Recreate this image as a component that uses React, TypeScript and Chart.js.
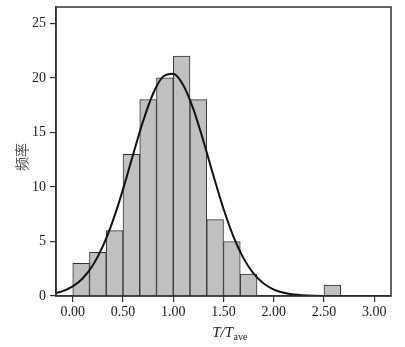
import React, { useEffect, useRef } from "react";
import { Chart, registerables } from "chart.js";

Chart.register(...registerables);

// Histogram bins (left edge of each bin, width 1/6) and counts
const binStart = [0.0, 0.1667, 0.3333, 0.5, 0.6667, 0.8333, 1.0, 1.1667, 1.3333, 1.5, 1.6667, 2.5];
const counts = [3, 4, 6, 13, 18, 20, 22, 18, 7, 5, 2, 1];
const binWidth = 1 / 6;

// Fitted normal curve
const curveX = [-0.17, -0.1, 0.0, 0.1, 0.2, 0.3, 0.4, 0.5, 0.6, 0.7, 0.8, 0.9, 1.0, 1.1, 1.2, 1.3, 1.4, 1.5, 1.6, 1.7, 1.8, 1.9, 2.0, 2.1, 2.2, 2.4, 2.6, 2.9, 3.17];
const curveY = [0.27, 0.45, 0.88, 1.63, 2.82, 4.57, 6.91, 9.78, 12.95, 16.03, 18.57, 20.12, 20.39, 19.33, 17.14, 14.22, 11.03, 8.0, 5.43, 3.45, 2.05, 1.14, 0.59, 0.29, 0.13, 0.02, 0.0, 0.0, 0.0];

const xTicks = [0, 0.5, 1.0, 1.5, 2.0, 2.5, 3.0];
const yTicks = [0, 5, 10, 15, 20, 25];
const xMin = -1 / 6;
const xMax = 3.1667;
const yMax = 26.5;
const yTitle = "频率";
const xTitleMain = "T/T";
const xTitleSub = "ave";

const SERIF = "'Liberation Serif', 'DejaVu Serif', serif";

const framePlugin = {
  id: "frameAndTitles",
  afterDraw(chart: any) {
    const { ctx, chartArea } = chart;
    ctx.save();
    ctx.strokeStyle = "#333";
    ctx.lineWidth = 1.5;
    ctx.strokeRect(chartArea.left, chartArea.top, chartArea.right - chartArea.left, chartArea.bottom - chartArea.top);

    // y title
    ctx.fillStyle = "#555";
    ctx.font = "14px 'Noto Sans CJK SC'";
    ctx.textAlign = "center";
    ctx.textBaseline = "middle";
    ctx.translate(22, 157);
    ctx.rotate(-Math.PI / 2);
    ctx.fillText(yTitle, 0, 0);
    ctx.restore();

    // x title
    ctx.save();
    ctx.fillStyle = "#222";
    ctx.textBaseline = "alphabetic";
    ctx.textAlign = "left";
    ctx.font = "italic 15px " + SERIF;
    const wMain = ctx.measureText(xTitleMain).width;
    ctx.font = "10px " + SERIF;
    const wSub = ctx.measureText(xTitleSub).width;
    const cx = 229.5;
    const x0 = cx - (wMain + wSub) / 2;
    ctx.font = "italic 15px " + SERIF;
    ctx.fillText(xTitleMain, x0, 337);
    ctx.font = "10px " + SERIF;
    ctx.fillText(xTitleSub, x0 + wMain + 0.5, 340);
    ctx.restore();
  },
};

export default function App() {
  const ref = useRef<HTMLCanvasElement>(null);
  useEffect(() => {
    document.body.style.margin = "0";
    const chart = new Chart(ref.current!, {
      type: "bar",
      data: {
        datasets: [
          {
            type: "line",
            data: curveX.map((x, i) => ({ x, y: curveY[i] })),
            borderColor: "#111",
            borderWidth: 2,
            pointRadius: 0,
            cubicInterpolationMode: "monotone",
            fill: false,
            order: 0,
          } as any,
          {
            type: "bar",
            data: binStart.map((s, i) => ({ x: s + binWidth / 2, y: counts[i] })),
            backgroundColor: "#c0c0c0",
            borderColor: "#333",
            borderWidth: 1,
            barPercentage: 1,
            categoryPercentage: 1,
            order: 1,
          } as any,
        ],
      },
      options: {
        responsive: false,
        animation: false,
        events: [],
        layout: { padding: { left: 0, top: 7, right: 14, bottom: 0 } },
        plugins: { legend: { display: false }, tooltip: { enabled: false } },
        scales: {
          x: {
            type: "linear",
            min: xMin,
            max: xMax,
            offset: false,
            afterBuildTicks: (s: any) => {
              s.ticks = xTicks.map((v) => ({ value: v }));
            },
            afterFit: (s: any) => {
              s.height = 51;
              s.paddingLeft = 0;
              s.paddingRight = 0;
            },
            grid: { display: true, drawOnChartArea: false, drawTicks: true, tickLength: 6, color: "#333", lineWidth: 1.2, offset: false },
            border: { display: true, color: "#333", width: 1.5 },
            ticks: {
              padding: 2,
              color: "#222",
              font: { family: SERIF, size: 14 },
              maxRotation: 0,
              autoSkip: false,
              callback: (v: any) => Number(v).toFixed(2),
            },
          },
          y: {
            min: 0,
            max: yMax,
            afterBuildTicks: (s: any) => {
              s.ticks = yTicks.map((v) => ({ value: v }));
            },
            afterFit: (s: any) => {
              s.width = 56;
              s.paddingTop = 0;
              s.paddingBottom = 0;
            },
            grid: { display: true, drawOnChartArea: false, drawTicks: true, tickLength: 6, color: "#333", lineWidth: 1.2 },
            border: { display: true, color: "#333", width: 1.5 },
            ticks: {
              padding: 4,
              color: "#222",
              font: { family: SERIF, size: 14 },
              callback: (v: any) => String(v),
            },
          },
        },
      },
      plugins: [framePlugin],
    });
    return () => chart.destroy();
  }, []);
  return (
    <div style={{ position: "absolute", left: 0, top: 0, width: 405, height: 347, background: "#fff" }}>
      <canvas ref={ref} width={405} height={347} />
    </div>
  );
}
